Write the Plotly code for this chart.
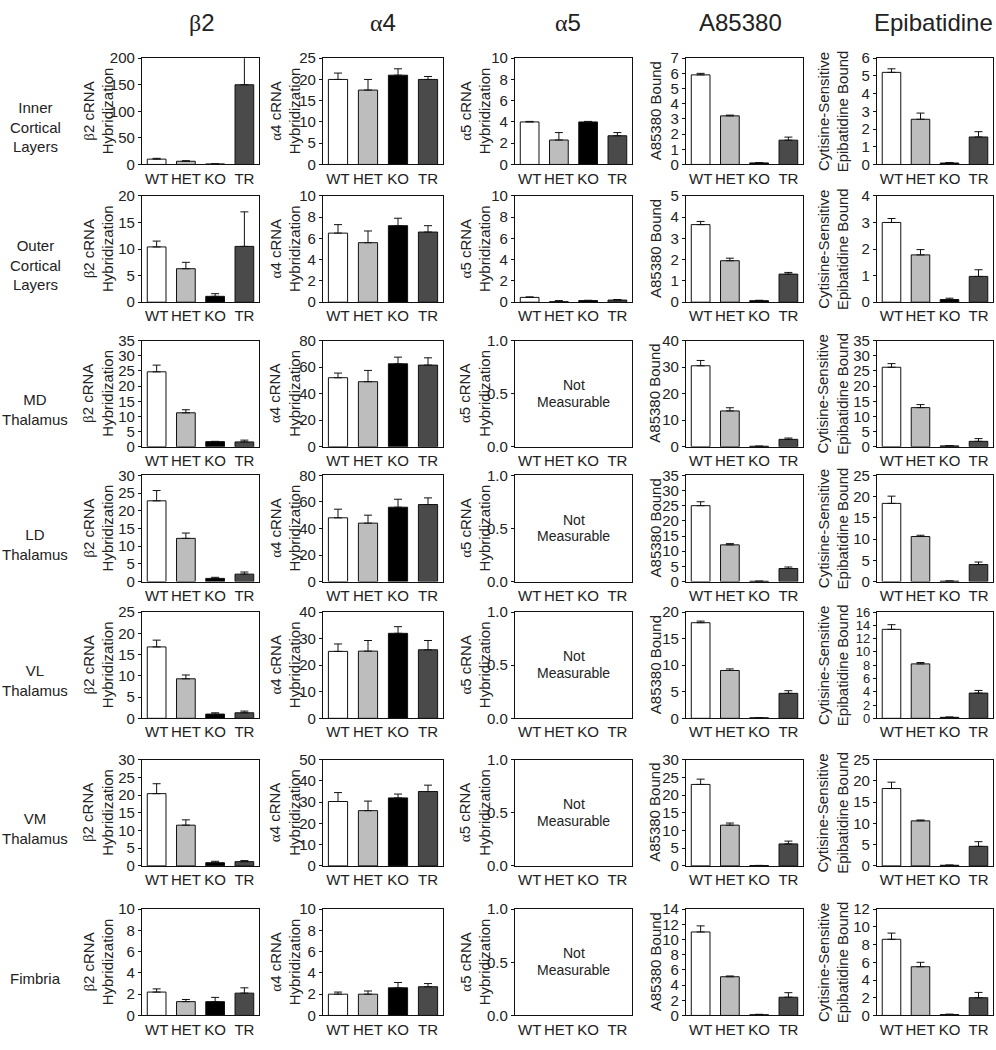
import plotly.graph_objects as go

W, H = 996, 1050

genotypes = ["WT", "HET", "KO", "TR"]
bar_colors = ["#ffffff", "#bdbdbd", "#000000", "#4a4a4a"]

columns = ["β2", "α4", "α5", "A85380", "Epibatidine"]
regions = ["Inner<br>Cortical<br>Layers", "Outer<br>Cortical<br>Layers", "MD<br>Thalamus",
           "LD<br>Thalamus", "VL<br>Thalamus", "VM<br>Thalamus", "Fimbria"]

# ---- data: mean values per region (rows) for each genotype ----
b2_mean = [[10, 6, 1, 150], [10.4, 6.3, 1.1, 10.5], [24.7, 11.2, 1.7, 1.6], [22.8, 12.2, 0.9, 2.1],
           [16.8, 9.3, 1.0, 1.3], [20.4, 11.5, 0.9, 1.2], [2.2, 1.3, 1.3, 2.1]]
b2_err = [[1.5, 1.0, 0.1, 60], [1.1, 1.2, 0.5, 6.5], [2.2, 1.0, 0.1, 0.6], [2.9, 1.5, 0.3, 0.6],
          [1.6, 0.9, 0.3, 0.4], [2.8, 1.5, 0.4, 0.3], [0.3, 0.2, 0.4, 0.5]]

a4_mean = [[20, 17.5, 21, 20], [6.5, 5.6, 7.2, 6.6], [52, 49, 62.5, 61.5], [48, 44, 56, 58],
           [25.2, 25.3, 32, 25.8], [30.3, 26, 32, 35], [2.0, 2.0, 2.6, 2.7]]
a4_err = [[1.5, 2.5, 1.5, 0.7], [0.8, 1.1, 0.7, 0.6], [3.5, 8.5, 5, 5.5], [6.5, 6, 6, 5],
          [2.8, 4, 2.5, 3.5], [4.2, 4.5, 1.8, 3], [0.2, 0.3, 0.5, 0.3]]

a5_mean = [[4.0, 2.3, 4.0, 2.7], [0.45, 0.05, 0.15, 0.2], None, None, None, None, None]
a5_err = [[0.05, 0.7, 0.05, 0.3], [0.05, 0.1, 0.03, 0.05], None, None, None, None, None]

a85_mean = [[5.9, 3.2, 0.1, 1.6], [3.65, 1.95, 0.07, 1.32], [30.5, 13.5, 0.2, 2.8], [25, 12.1, 0.1, 4.3],
            [18, 9, 0.1, 4.7], [23, 11.5, 0.1, 6.2], [11, 5.1, 0.1, 2.4]]
a85_err = [[0.1, 0.05, 0.02, 0.2], [0.15, 0.12, 0.02, 0.08], [2, 1.2, 0.05, 0.5], [1.3, 0.4, 0.05, 0.5],
           [0.3, 0.3, 0.05, 0.5], [1.5, 0.6, 0.05, 0.8], [0.8, 0.1, 0.05, 0.6]]

epi_mean = [[5.2, 2.55, 0.08, 1.55], [3.0, 1.78, 0.1, 0.97], [26.2, 12.9, 0.3, 1.8], [18.4, 10.6, 0.1, 4.0],
            [13.4, 8.2, 0.15, 3.8], [18.2, 10.6, 0.15, 4.6], [8.6, 5.5, 0.1, 2.0]]
epi_err = [[0.2, 0.35, 0.03, 0.3], [0.15, 0.2, 0.05, 0.25], [1.2, 1.0, 0.1, 0.9], [1.7, 0.3, 0.05, 0.6],
           [0.7, 0.2, 0.05, 0.4], [1.5, 0.2, 0.05, 1.1], [0.7, 0.5, 0.05, 0.6]]

# y axis maxima and tick steps per column/row
b2_ymax = [200, 20, 35, 30, 25, 30, 10]
b2_dtick = [50, 5, 5, 5, 5, 5, 2]
a4_ymax = [25, 10, 80, 80, 40, 50, 10]
a4_dtick = [5, 2, 20, 20, 10, 10, 2]
a5_ymax = [10, 10, 1.0, 1.0, 1.0, 1.0, 1.0]
a5_dtick = [2, 2, 0.5, 0.5, 0.5, 0.5, 0.5]
a85_ymax = [7, 5, 40, 35, 20, 30, 14]
a85_dtick = [1, 1, 10, 5, 5, 5, 2]
epi_ymax = [6, 4, 35, 25, 16, 25, 12]
epi_dtick = [1, 1, 5, 5, 2, 5, 2]

SERIF = "font-family:Liberation Serif"
y_titles = [f"<span style='{SERIF}'>β</span>2 cRNA<br>Hybridization",
            f"<span style='{SERIF}'>α</span>4 cRNA<br>Hybridization",
            f"<span style='{SERIF}'>α</span>5 cRNA<br>Hybridization",
            "A85380 Bound",
            "Cytisine-Sensitive<br>Epibatidine Bound"]
not_measurable = ["Not", "Measurable"]

col_data = [(b2_mean, b2_err, b2_ymax, b2_dtick), (a4_mean, a4_err, a4_ymax, a4_dtick),
            (a5_mean, a5_err, a5_ymax, a5_dtick), (a85_mean, a85_err, a85_ymax, a85_dtick),
            (epi_mean, epi_err, epi_ymax, epi_dtick)]

# ---- layout geometry (pixels) ----
col_px = [(142, 259), (323, 443), (515, 632), (686, 803), (877, 993)]
row_px = [(50, 158), (190, 298), (337, 445), (474, 582), (613, 721), (763, 871), (915, 1023)]
ytitle_x = [98, 285, 475, 655, 833]
header_x = [202, 383, 568, 740, 933]

FONT = "Arial, Liberation Sans, sans-serif"
TXT = "#222222"

fig = go.Figure()
layout = dict(width=W, height=H, margin=dict(l=0, r=0, t=0, b=0),
              paper_bgcolor="white", plot_bgcolor="white", showlegend=False,
              font=dict(family=FONT, size=15, color=TXT))
annotations = []

n = 0
for r in range(len(regions)):
    for c in range(len(columns)):
        n += 1
        xa = "x" if n == 1 else f"x{n}"
        ya = "y" if n == 1 else f"y{n}"
        means, errs, ymax, dtick = col_data[c]
        m = means[r]
        if m is not None:
            fig.add_trace(go.Bar(
                x=genotypes, y=m, xaxis=xa, yaxis=ya, width=0.64,
                marker=dict(color=bar_colors, line=dict(color="#111111", width=1)),
                error_y=dict(type="data", symmetric=False, array=errs[r],
                             arrayminus=[0] * len(m), color="#111111", thickness=1, width=4),
                hoverinfo="x+y"))
        else:
            fig.add_trace(go.Scatter(x=genotypes, y=[None] * len(genotypes), xaxis=xa, yaxis=ya,
                                     mode="markers", hoverinfo="skip"))
        x0, x1 = col_px[c]
        y0, y1 = row_px[r]
        axis_common = dict(showline=True, mirror=True, linecolor="#111111", linewidth=1.2,
                           showgrid=False, zeroline=False)
        layout["xaxis" if n == 1 else f"xaxis{n}"] = dict(
            domain=[x0 / W, x1 / W], anchor=ya, type="category", categoryarray=genotypes,
            range=[-0.5, len(genotypes) - 0.5], ticks="", tickfont=dict(size=15, color=TXT),
            fixedrange=True, **axis_common)
        spacing = (y1 - y0) / (ymax[r] / dtick[r])
        tsize = 15 if spacing >= 15 else 13
        yd = dict(domain=[1 - y1 / H, 1 - y0 / H], anchor=xa, range=[0, ymax[r]],
                  dtick=dtick[r], tick0=0, ticks="outside", ticklen=3, tickcolor="#111111",
                  tickfont=dict(size=tsize, color=TXT), fixedrange=True, **axis_common)
        if dtick[r] < 1:
            yd["tickformat"] = ".1f"
        layout["yaxis" if n == 1 else f"yaxis{n}"] = yd
        # y-axis title
        annotations.append(dict(text=y_titles[c], x=ytitle_x[c] / W, y=1 - (y0 + y1) / 2 / H,
                                xref="paper", yref="paper", showarrow=False, textangle=-90,
                                xanchor="center", yanchor="middle", font=dict(size=15, color=TXT)))
        if m is None:
            cx = (x0 + x1) / 2 / W
            cy = (y0 + y1) / 2
            for k, t in enumerate(not_measurable):
                annotations.append(dict(text=t, x=cx, y=1 - (cy - 9 + 17 * k) / H, xref="paper",
                                        yref="paper", showarrow=False, xanchor="center",
                                        yanchor="middle", font=dict(size=14, color=TXT)))
    # row label
    y0, y1 = row_px[r]
    annotations.append(dict(text=regions[r], x=35 / W, y=1 - ((y0 + y1) / 2 + 16) / H,
                            xref="paper", yref="paper", showarrow=False, xanchor="center",
                            yanchor="middle", align="center", font=dict(size=15, color=TXT)))

for c, name in enumerate(columns):
    label = name
    if name.startswith(("β", "α")):
        label = f"<span style='{SERIF}'>{name[0]}</span>{name[1:]}"
    annotations.append(dict(text=label, x=header_x[c] / W, y=1 - 14 / H, xref="paper", yref="paper",
                            showarrow=False, xanchor="center", yanchor="middle",
                            font=dict(size=24, color=TXT)))

layout["annotations"] = annotations
fig.update_layout(**layout)
fig.write_html(
    "out.html",
    config={"displayModeBar": False},
    post_script=("document.documentElement.style.margin='0';document.documentElement.style.padding='0';"
                 "document.documentElement.style.overflow='hidden';"
                 "document.body.style.margin='0';document.body.style.padding='0';"
                 "document.body.style.overflow='hidden';document.body.style.height='1050px';"),
)
